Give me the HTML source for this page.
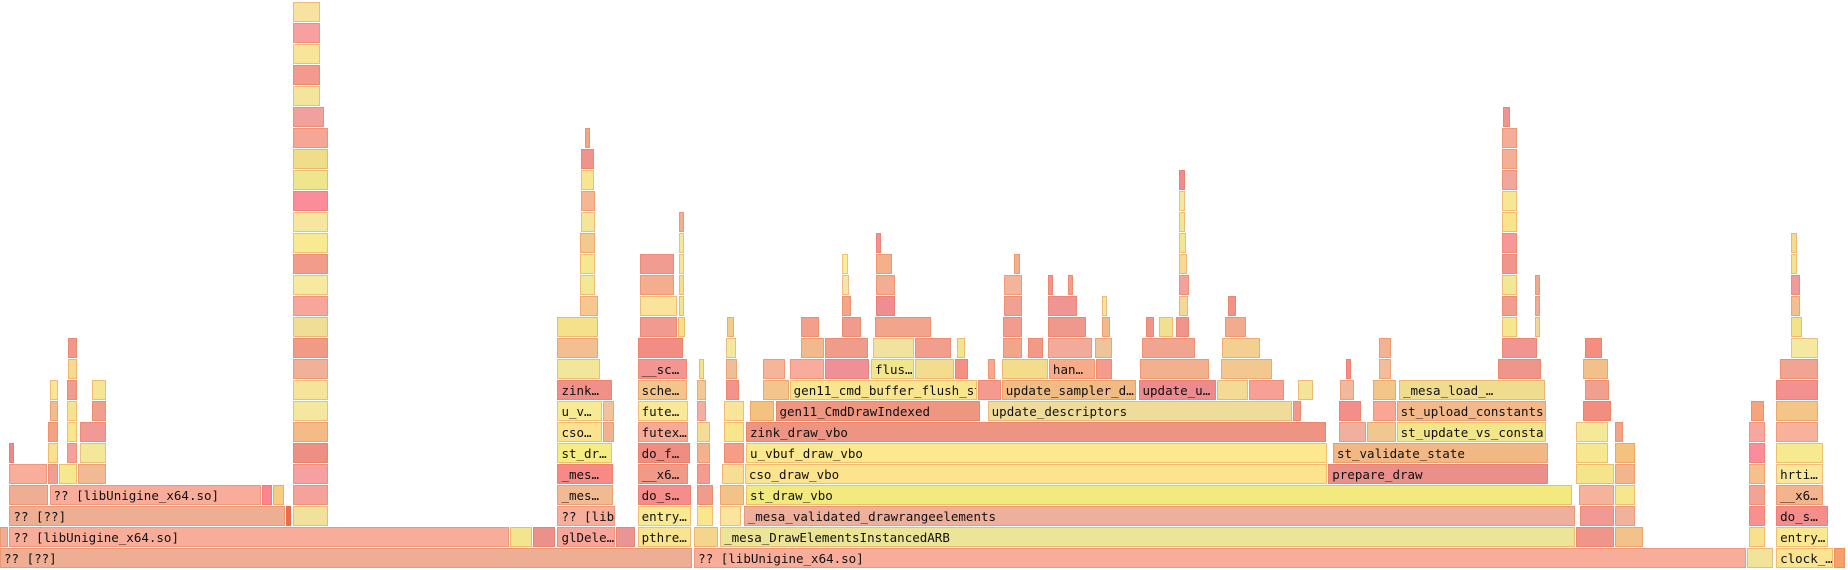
<!DOCTYPE html>
<html><head><meta charset="utf-8"><style>
html,body{margin:0;padding:0;background:#fff;width:1848px;height:570px;overflow:hidden}
#fg{position:relative;width:1848px;height:570px}
.f{position:absolute;height:20px;box-sizing:border-box;border:1px solid rgba(230,110,60,0.35);overflow:hidden;white-space:nowrap;font:12.5px "DejaVu Sans Mono","Liberation Mono",monospace;line-height:19px;color:#111;padding-left:3px}
</style></head><body>
<div id="fg"></div>
<script>
// frames: [start, end, level, label, color]  (units: sample positions on a 0..1568 scale)
const frames = [
[0,588,0,"?? [??]","#edae94"],[589,1482,0,"?? [libUnigine_x64.so]","#f8ad9b"],[1482,1505,0,"","#f2e39a"],[1507,1556,0,"clock_…","#fbe48f"],[1556,1566,0,"","#f3a06a"],
[0,8,1,"","#edae94"],[8,433,1,"?? [libUnigine_x64.so]","#f8ad9b"],[433,452,1,"","#f3e48e"],[452,472,1,"","#e9918a"],[473,523,1,"glDele…","#f8a69b"],[523,540,1,"","#e99593"],[541,587,1,"pthre…","#f9e590"],[589,610,1,"","#f5d58c"],[611,1337,1,"_mesa_DrawElementsInstancedARB","#ece598"],[1337,1370,1,"","#f0958a"],[1370,1395,1,"","#f3c28a"],[1484,1498,1,"","#f9e08c"],[1507,1552,1,"entry…","#fbe892"],
[8,243,2,"?? [??]","#edae94"],[243,248,2,"","#ef6b4c"],[249,279,2,"","#f2e19a"],[473,523,2,"?? [lib","#f8ae9c"],[541,587,2,"entry…","#f9e993"],[591,606,2,"","#fbe690"],[611,630,2,"","#f9e59b"],[631,1337,2,"_mesa_validated_drawrangeelements","#eeb09b"],[1341,1370,2,"","#f19a94"],[1370,1388,2,"","#f1b29c"],[1484,1498,2,"","#f89090"],[1507,1552,2,"do_s…","#f58d8d"],
[8,42,3,"","#eeae93"],[42,222,3,"?? [libUnigine_x64.so]","#f8ad9b"],[222,232,3,"","#fa8590"],[232,242,3,"","#f6cd80"],[249,279,3,"","#f5a39a"],[473,521,3,"_mes…","#f2ba93"],[541,587,3,"do_s…","#f58d8d"],[591,606,3,"","#f09c8b"],[611,632,3,"","#f2c387"],[633,1335,3,"st_draw_vbo","#f2ea7f"],[1340,1370,3,"","#f4b39a"],[1370,1388,3,"","#f6e68e"],[1484,1498,3,"","#f2a392"],[1507,1548,3,"__x6…","#f3b38d"],
[8,41,4,"","#f9ad9b"],[41,50,4,"","#f19f92"],[50,66,4,"","#f6e88c"],[66,91,4,"","#f1ba94"],[249,279,4,"","#f6a09f"],[473,521,4,"_mes…","#f78a86"],[541,585,4,"__x6…","#f29a88"],[591,603,4,"","#f49b92"],[613,632,4,"","#f8de95"],[632,1127,4,"cso_draw_vbo","#fce38d"],[1127,1314,4,"prepare_draw","#eb8f8a"],[1337,1370,4,"","#f4e58a"],[1370,1388,4,"","#f3b58c"],[1484,1498,4,"","#f6c08c"],[1507,1548,4,"hrti…","#f9e89a"],
[8,10,5,"","#f08888"],[41,50,5,"","#f6e290"],[57,66,5,"","#f5a09a"],[68,91,5,"","#f3e89a"],[249,279,5,"","#ee8f83"],[473,520,5,"st_dr…","#f5ec84"],[541,586,5,"do_f…","#ef8d83"],[591,603,5,"","#f3b28d"],[614,632,5,"","#f69d88"],[633,1127,5,"u_vbuf_draw_vbo","#fbe88f"],[1131,1314,5,"st_validate_state","#f1b885"],[1337,1365,5,"","#f5e890"],[1370,1388,5,"","#f4c27f"],[1484,1498,5,"","#fb8d9b"],[1507,1548,5,"","#f5ea90"],
[41,50,6,"","#f3a383"],[57,66,6,"","#f7e68c"],[68,91,6,"","#f19a93"],[249,279,6,"","#f5bb87"],[473,512,6,"cso…","#fbe28e"],[512,522,6,"","#f3b190"],[541,585,6,"futex…","#f6ab97"],[591,603,6,"","#f5db96"],[614,632,6,"","#f9e58c"],[633,1126,6,"zink_draw_vbo","#ee9483"],[1136,1160,6,"","#f0b09d"],[1160,1185,6,"","#f1c790"],[1185,1313,6,"st_update_vs_consta.","#f3e58a"],[1337,1365,6,"","#f5e898"],[1370,1378,6,"","#f0a587"],[1484,1498,6,"","#f7a79e"],[1507,1543,6,"","#f7b29b"],
[42,50,7,"","#f0bd8f"],[57,66,7,"","#f5e390"],[78,91,7,"","#f09f8c"],[249,279,7,"","#f4e7a0"],[473,512,7,"u_v…","#f7ea94"],[512,522,7,"","#f2c39a"],[541,585,7,"fute…","#f9e898"],[591,600,7,"","#f2b0a2"],[614,632,7,"","#f8e59a"],[636,658,7,"","#f3c27e"],[658,832,7,"gen11_CmdDrawIndexed","#ef9680"],[838,1097,7,"update_descriptors","#f0dc9a"],[1097,1105,7,"","#f19a8a"],[1136,1156,7,"","#f48e8a"],[1165,1185,7,"","#f9a694"],[1185,1313,7,"st_upload_constants","#f3b98a"],[1343,1368,7,"","#f18e80"],[1486,1498,7,"","#f5a47c"],[1507,1543,7,"","#f3c587"],
[42,50,8,"","#f8e696"],[57,66,8,"","#f09c8c"],[78,91,8,"","#f6e596"],[249,279,8,"","#f7e49b"],[473,520,8,"zink…","#f09088"],[541,584,8,"sche…","#f3c48b"],[591,600,8,"","#f2c897"],[616,628,8,"","#f2948d"],[647,670,8,"","#f3c48c"],[670,830,8,"gen11_cmd_buffer_flush_st","#f8e58d"],[830,850,8,"","#f59a90"],[850,965,8,"update_sampler_d…","#f1bb84"],[966,1033,8,"update_u…","#ec8a8e"],[1033,1060,8,"","#f3db95"],[1060,1090,8,"","#f6a096"],[1101,1115,8,"","#f3e497"],[1137,1150,8,"","#f2b89d"],[1165,1185,8,"","#f2c589"],[1187,1312,8,"_mesa_load_…","#f0dc8f"],[1345,1366,8,"","#f19f8f"],[1507,1543,8,"","#f39090"],
[58,66,9,"","#f3dc8f"],[249,279,9,"","#f0b198"],[473,510,9,"","#f2e69a"],[541,584,9,"__sc…","#f39691"],[593,598,9,"","#f5e38c"],[616,626,9,"","#f0bd97"],[647,667,9,"","#f6b498"],[670,700,9,"","#f9ac9c"],[700,738,9,"","#ef8f96"],[739,776,9,"flus…","#f1e68e"],[776,810,9,"","#f4dc8e"],[810,822,9,"","#f39082"],[838,845,9,"","#f5aa90"],[850,890,9,"","#f3dc8c"],[890,930,9,"han…","#f7ab89"],[930,944,9,"","#f59b8b"],[967,1027,9,"","#f2b08d"],[1036,1080,9,"","#f3c890"],[1142,1145,9,"","#f58c8c"],[1170,1181,9,"","#f1bd9a"],[1271,1308,9,"","#ee968a"],[1343,1365,9,"","#f3c089"],[1510,1543,9,"","#f0a491"],
[58,66,10,"","#f0998a"],[249,279,10,"","#f19b86"],[473,508,10,"","#f3be90"],[541,580,10,"","#f28d86"],[616,625,10,"","#f3e8a0"],[680,700,10,"","#f2b98e"],[700,737,10,"","#f09c8a"],[741,776,10,"","#f1e2a0"],[776,808,10,"","#f19e8c"],[812,820,10,"","#f3e58c"],[851,868,10,"","#f1a68c"],[872,886,10,"","#f19a88"],[889,927,10,"","#f2ab9b"],[929,944,10,"","#f0c49a"],[969,1015,10,"","#f1a590"],[1037,1070,10,"","#f4cf92"],[1170,1181,10,"","#f3b291"],[1274,1305,10,"","#f2948f"],[1345,1360,10,"","#f58e7e"],[1520,1543,10,"","#f5e8a1"],
[249,279,11,"","#f1de96"],[473,508,11,"","#f5e18c"],[543,575,11,"","#f19a8f"],[575,582,11,"","#f3e08b"],[617,624,11,"","#f3cc8a"],[680,696,11,"","#f2a08c"],[714,731,11,"","#f09b8b"],[742,791,11,"","#f3a48c"],[851,868,11,"","#f39c8d"],[889,922,11,"","#ef998c"],[935,943,11,"","#f3b88b"],[972,980,11,"","#f2948a"],[983,996,11,"","#f2e091"],[998,1010,11,"","#f2948e"],[1039,1058,11,"","#f3ab8f"],[1274,1288,11,"","#f3e88f"],[1302,1307,11,"","#f3d69a"],[1520,1530,11,"","#f3e28a"],
[249,279,12,"","#f8a69b"],[492,508,12,"","#f6c88f"],[543,575,12,"","#f9e49a"],[576,581,12,"","#f3e48e"],[714,723,12,"","#f2a78a"],[743,760,12,"","#ef8d92"],[852,868,12,"","#f1a191"],[889,915,12,"","#f19594"],[935,939,12,"","#f3e49a"],[1000,1009,12,"","#f5d896"],[1042,1050,12,"","#f09488"],[1274,1288,12,"","#f19d8f"],[1302,1307,12,"","#f2ab94"],[1520,1528,12,"","#f3bf8e"],
[249,279,13,"","#f6e9a0"],[492,506,13,"","#f1e995"],[543,573,13,"","#f5ad90"],[576,581,13,"","#f2e08e"],[714,721,13,"","#f3e5ac"],[743,760,13,"","#f3ad93"],[852,868,13,"","#f3b49a"],[889,891,13,"","#f3958e"],[906,910,13,"","#f3a08a"],[1000,1010,13,"","#f3a19c"],[1274,1288,13,"","#f2e796"],[1302,1307,13,"","#f2a98c"],[1520,1528,13,"","#f19a99"],
[249,279,14,"","#f29d8c"],[492,506,14,"","#f6e88f"],[543,573,14,"","#f09c90"],[576,581,14,"","#f5e69a"],[714,720,14,"","#f8ee9a"],[743,758,14,"","#f4b08a"],[860,866,14,"","#f2b08c"],[1000,1008,14,"","#f6da92"],[1274,1288,14,"","#f0968e"],[1520,1526,14,"","#f3e28e"],
[249,279,15,"","#f8e993"],[492,506,15,"","#f2ca90"],[576,581,15,"","#f4e89a"],[743,747,15,"","#f29190"],[1000,1007,15,"","#f4e592"],[1274,1288,15,"","#f79898"],[1520,1526,15,"","#f3dd8c"],
[249,279,16,"","#f7e6a0"],[493,506,16,"","#f3e59a"],[576,581,16,"","#f3b090"],[1000,1006,16,"","#f3e592"],[1274,1288,16,"","#f7e58a"],
[249,279,17,"","#fb8d9b"],[493,506,17,"","#f5b694"],[1000,1006,17,"","#f4e8a0"],[1274,1288,17,"","#f4e894"],
[249,279,18,"","#ede68c"],[493,505,18,"","#f7e590"],[1000,1006,18,"","#f28c8c"],[1274,1288,18,"","#f2a79c"],
[249,279,19,"","#f0dd8a"],[493,505,19,"","#f1938b"],[1274,1288,19,"","#f3b095"],
[249,279,20,"","#f5a694"],[496,501,20,"","#f3a77e"],[1274,1288,20,"","#f3ae9a"],
[249,276,21,"","#f0a19b"],[1275,1282,21,"","#f29392"],
[249,272,22,"","#f3e69c"],[249,272,23,"","#f39a8c"],[249,272,24,"","#f9e59a"],[249,272,25,"","#f8a09f"],[249,272,26,"","#f7e2a0"]
];
const SCALE = 1848/1568;
function xPos(v){ return v*SCALE; }
function yPos(level){ return 548 - 21*level; }
const fg = document.getElementById('fg');
frames.forEach(function(f){
  const el = document.createElement('div');
  el.className = 'f';
  
  
  const x0 = xPos(f[0]), x1 = xPos(f[1]);
  el.style.left = x0 + 'px';
  el.style.width = Math.max(1, x1 - x0 - 1) + 'px';
  el.style.top = yPos(f[2]) + 'px';
  el.style.background = f[4];
  el.textContent = f[3];
  fg.appendChild(el);
});
</script>
</body></html>
